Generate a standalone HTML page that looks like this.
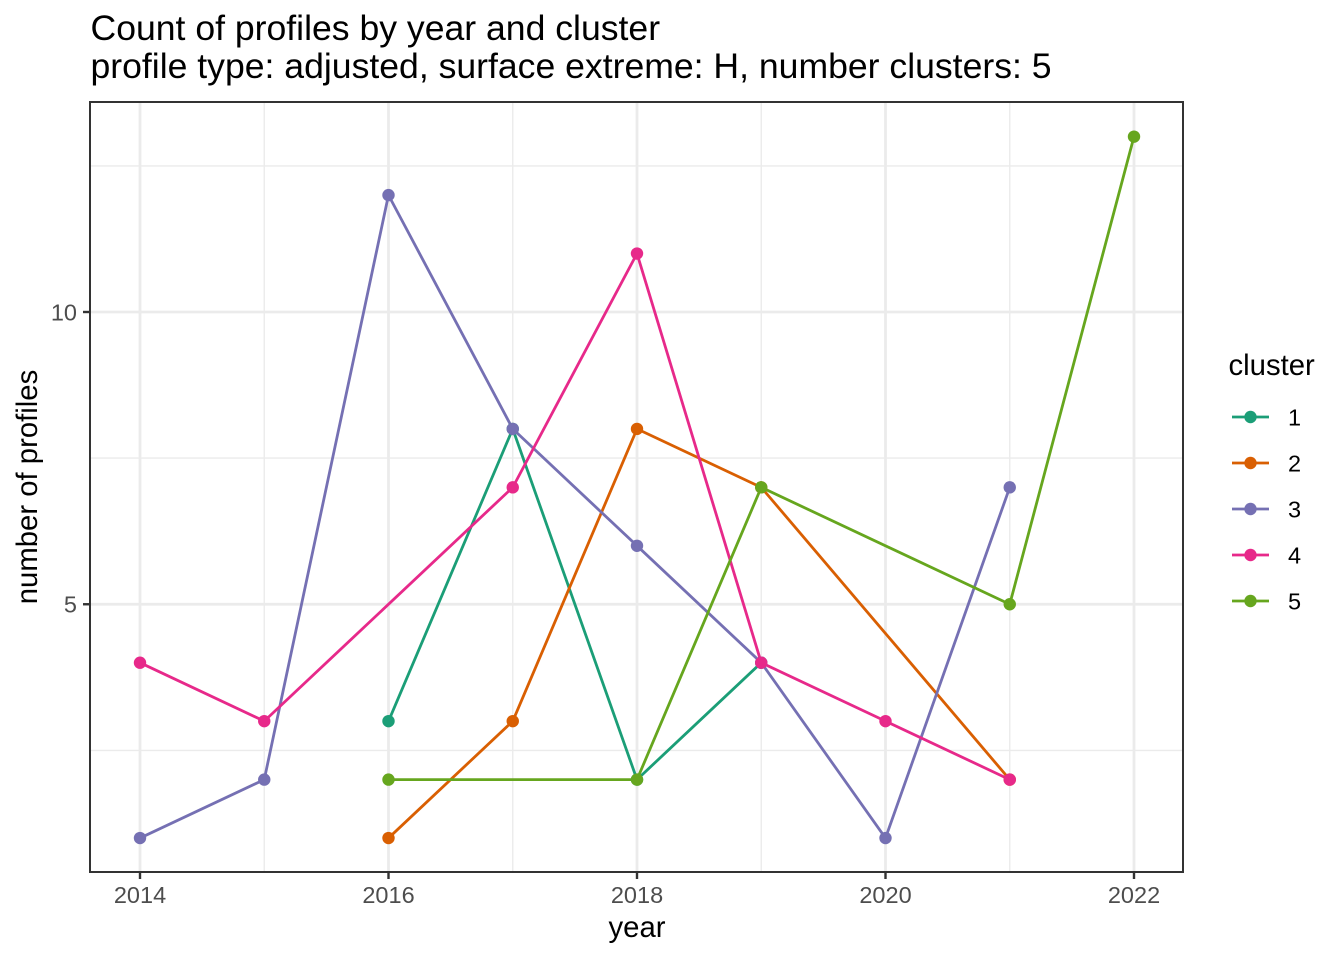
<!DOCTYPE html>
<html>
<head>
<meta charset="utf-8">
<style>
  html, body { margin: 0; padding: 0; background: #ffffff; }
  svg { display: block; }
  text { font-family: "Liberation Sans", Arial, sans-serif; }
</style>
</head>
<body>
<svg width="1344" height="960" viewBox="0 0 1344 960" xmlns="http://www.w3.org/2000/svg">
  <rect x="0" y="0" width="1344" height="960" fill="#ffffff"/>

  <!-- Title -->
  <text x="90.5" y="40" font-size="35.6" fill="#000000">Count of profiles by year and cluster</text>
  <text x="90.5" y="78" font-size="35.6" fill="#000000">profile type: adjusted, surface extreme: H, number clusters: 5</text>

  <!-- Panel background -->
  <rect x="90" y="102" width="1093" height="770" fill="#ffffff"/>

  <!-- Minor gridlines -->
  <g stroke="#EBEBEB" stroke-width="1.4" fill="none">
    <line x1="90" x2="1183" y1="750.4" y2="750.4"/>
    <line x1="90" x2="1183" y1="458.1" y2="458.1"/>
    <line x1="90" x2="1183" y1="165.9" y2="165.9"/>
    <line x1="264.25" x2="264.25" y1="102" y2="872"/>
    <line x1="512.75" x2="512.75" y1="102" y2="872"/>
    <line x1="761.25" x2="761.25" y1="102" y2="872"/>
    <line x1="1009.75" x2="1009.75" y1="102" y2="872"/>
  </g>
  <!-- Major gridlines -->
  <g stroke="#EBEBEB" stroke-width="2.8" fill="none">
    <line x1="90" x2="1183" y1="604.25" y2="604.25"/>
    <line x1="90" x2="1183" y1="312" y2="312"/>
    <line x1="140" x2="140" y1="102" y2="872"/>
    <line x1="388.5" x2="388.5" y1="102" y2="872"/>
    <line x1="637" x2="637" y1="102" y2="872"/>
    <line x1="885.5" x2="885.5" y1="102" y2="872"/>
    <line x1="1134" x2="1134" y1="102" y2="872"/>
  </g>

  <!-- Lines -->
  <g fill="none" stroke-width="2.8" stroke-linejoin="round" stroke-linecap="butt">
    <polyline stroke="#1B9E77" points="388.5,721.15 512.75,428.9 637,779.6 761.25,662.7"/>
    <polyline stroke="#D95F02" points="388.5,838.05 512.75,721.15 637,428.9 761.25,487.35 1009.75,779.6"/>
    <polyline stroke="#7570B3" points="140,838.05 264.25,779.6 388.5,195.1 512.75,428.9 637,545.8 761.25,662.7 885.5,838.05 1009.75,487.35"/>
    <polyline stroke="#E7298A" points="140,662.7 264.25,721.15 512.75,487.35 637,253.55 761.25,662.7 885.5,721.15 1009.75,779.6"/>
    <polyline stroke="#66A61E" points="388.5,779.6 637,779.6 761.25,487.35 1009.75,604.25 1134,136.65"/>
  </g>

  <!-- Points -->
  <g fill="#1B9E77">
    <circle cx="388.5" cy="721.15" r="6.2"/>
    <circle cx="512.75" cy="428.9" r="6.2"/>
    <circle cx="637" cy="779.6" r="6.2"/>
    <circle cx="761.25" cy="662.7" r="6.2"/>
  </g>
  <g fill="#D95F02">
    <circle cx="388.5" cy="838.05" r="6.2"/>
    <circle cx="512.75" cy="721.15" r="6.2"/>
    <circle cx="637" cy="428.9" r="6.2"/>
    <circle cx="761.25" cy="487.35" r="6.2"/>
    <circle cx="1009.75" cy="779.6" r="6.2"/>
  </g>
  <g fill="#7570B3">
    <circle cx="140" cy="838.05" r="6.2"/>
    <circle cx="264.25" cy="779.6" r="6.2"/>
    <circle cx="388.5" cy="195.1" r="6.2"/>
    <circle cx="512.75" cy="428.9" r="6.2"/>
    <circle cx="637" cy="545.8" r="6.2"/>
    <circle cx="761.25" cy="662.7" r="6.2"/>
    <circle cx="885.5" cy="838.05" r="6.2"/>
    <circle cx="1009.75" cy="487.35" r="6.2"/>
  </g>
  <g fill="#E7298A">
    <circle cx="140" cy="662.7" r="6.2"/>
    <circle cx="264.25" cy="721.15" r="6.2"/>
    <circle cx="512.75" cy="487.35" r="6.2"/>
    <circle cx="637" cy="253.55" r="6.2"/>
    <circle cx="761.25" cy="662.7" r="6.2"/>
    <circle cx="885.5" cy="721.15" r="6.2"/>
    <circle cx="1009.75" cy="779.6" r="6.2"/>
  </g>
  <g fill="#66A61E">
    <circle cx="388.5" cy="779.6" r="6.2"/>
    <circle cx="637" cy="779.6" r="6.2"/>
    <circle cx="761.25" cy="487.35" r="6.2"/>
    <circle cx="1009.75" cy="604.25" r="6.2"/>
    <circle cx="1134" cy="136.65" r="6.2"/>
  </g>

  <!-- Panel border -->
  <rect x="90" y="102" width="1093" height="770" fill="none" stroke="#333333" stroke-width="2"/>

  <!-- Ticks -->
  <g stroke="#333333" stroke-width="2.4">
    <line x1="83" x2="90" y1="312" y2="312"/>
    <line x1="83" x2="90" y1="604.25" y2="604.25"/>
    <line x1="140" x2="140" y1="872" y2="879"/>
    <line x1="388.5" x2="388.5" y1="872" y2="879"/>
    <line x1="637" x2="637" y1="872" y2="879"/>
    <line x1="885.5" x2="885.5" y1="872" y2="879"/>
    <line x1="1134" x2="1134" y1="872" y2="879"/>
  </g>

  <!-- Tick labels -->
  <g font-size="23.5" fill="#4D4D4D">
    <text x="77" y="320.4" text-anchor="end">10</text>
    <text x="77" y="612.6" text-anchor="end">5</text>
    <text x="140" y="903" text-anchor="middle">2014</text>
    <text x="388.5" y="903" text-anchor="middle">2016</text>
    <text x="637" y="903" text-anchor="middle">2018</text>
    <text x="885.5" y="903" text-anchor="middle">2020</text>
    <text x="1134" y="903" text-anchor="middle">2022</text>
  </g>

  <!-- Axis titles -->
  <text x="637" y="937" font-size="29.3" fill="#000000" text-anchor="middle">year</text>
  <text transform="translate(37,487) rotate(-90)" x="0" y="0" font-size="29.3" fill="#000000" text-anchor="middle">number of profiles</text>

  <!-- Legend -->
  <text x="1228.5" y="375" font-size="29.3" fill="#000000">cluster</text>
  <g stroke-width="2.8">
    <line x1="1232" x2="1269" y1="417" y2="417" stroke="#1B9E77"/>
    <line x1="1232" x2="1269" y1="463" y2="463" stroke="#D95F02"/>
    <line x1="1232" x2="1269" y1="509" y2="509" stroke="#7570B3"/>
    <line x1="1232" x2="1269" y1="555" y2="555" stroke="#E7298A"/>
    <line x1="1232" x2="1269" y1="601" y2="601" stroke="#66A61E"/>
  </g>
  <circle cx="1250.5" cy="417" r="6.2" fill="#1B9E77"/>
  <circle cx="1250.5" cy="463" r="6.2" fill="#D95F02"/>
  <circle cx="1250.5" cy="509" r="6.2" fill="#7570B3"/>
  <circle cx="1250.5" cy="555" r="6.2" fill="#E7298A"/>
  <circle cx="1250.5" cy="601" r="6.2" fill="#66A61E"/>
  <g font-size="23.5" fill="#000000">
    <text x="1288" y="425.4">1</text>
    <text x="1288" y="471.4">2</text>
    <text x="1288" y="517.4">3</text>
    <text x="1288" y="563.4">4</text>
    <text x="1288" y="609.4">5</text>
  </g>
</svg>
</body>
</html>
